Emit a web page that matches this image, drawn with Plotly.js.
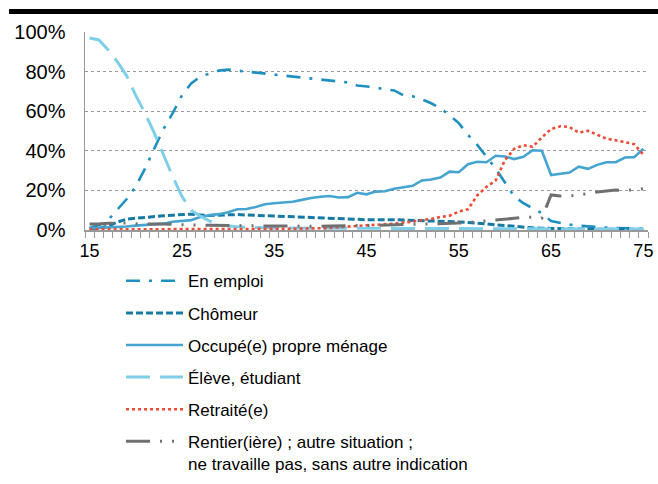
<!DOCTYPE html>
<html>
<head>
<meta charset="utf-8">
<script src="https://cdn.plot.ly/plotly-3.0.1.min.js"></script>
<style>
html,body{margin:0;padding:0;background:#fff;}
#chart{width:658px;height:484px;}
</style>
</head>
<body>
<div id="chart"></div>
<script>
const ages = [];
for (let a = 15; a <= 75; a++) ages.push(a);

const seriesNames = [
  "En emploi",
  "Chômeur",
  "Occupé(e) propre ménage",
  "Élève, étudiant",
  "Retraité(e)",
  "Rentier(ière) ; autre situation ;<br>ne travaille pas, sans autre indication"
];

// ages 15..75
const enEmploi = [1,2.5,5,10,15.5,22,31,41,51,59,68,74,77.5,79,80.5,81,80.5,80,79.5,79,78.5,78,77.5,77,76.5,76,75.5,75,74.5,73,72.5,72,71,70.5,68,67.5,66,64,61.5,58,54,48,43,37,31,24,17,13.5,11,8.5,4.5,3.5,2.7,2.2,1.8,1.4,1.2,1,0.9,0.8,0.7];
const chomeur = [0.5,1,2,4,5.5,6,6.5,7,7.2,7.5,7.8,8,7.6,7.3,7.5,7.8,7.8,7.6,7.4,7.2,7.2,7,6.8,6.6,6.3,6.1,6,5.9,5.7,5.4,5.2,5.2,5.3,5.2,5,4.9,4.7,4.6,4.4,4.3,4.1,3.8,3.4,3,2.5,2,1.6,1.3,1.1,0.9,0.7,0.6,0.6,0.5,0.5,0.4,0.4,0.4,0.3,0.3,0.3];
const occupe = [0.8,1,1.3,1.6,1.8,2.2,2.5,2.9,3.2,4.2,4.6,5,6.6,7.5,8,9,10.5,10.6,11.6,13,13.5,14,14.3,15.2,16.2,16.8,17.2,16.4,16.6,18.8,18,19.4,19.6,20.8,21.6,22.3,25,25.5,26.5,29.5,29.2,33.2,34.5,34.2,37.5,37.1,35.8,37,40.3,40,27.8,28.3,29,32,30.9,32.9,34.2,34.3,36.6,36.8,41];
const eleve = [97,96,91,85,78,68,59,49,38,27,17,10,7,4.5,2.5,2,1.6,1.4,1.2,1.1,1,1,0.9,0.9,0.9,0.9,0.9,0.9,0.9,0.9,0.9,0.8,0.8,0.8,0.8,0.8,0.8,0.8,0.7,0.7,0.7,0.7,0.7,0.7,0.7,0.6,0.6,0.6,0.6,0.6,0.5,0.5,0.5,0.5,0.5,0.5,0.5,0.5,0.5,0.5,0.5];
const retraite = [0.3,0.3,0.3,0.3,0.3,0.3,0.3,0.3,0.3,0.3,0.3,0.4,0.4,0.4,0.4,0.5,0.5,0.5,0.5,0.5,0.6,0.6,0.6,0.7,0.7,0.8,1,1.4,1.8,2.2,2.4,2.6,2.8,3.2,3.8,4.2,5,5.6,6.6,7.2,9.3,10.5,17.5,21.8,25,35.3,41,42.8,42,46.8,51,52.4,52,49.2,50.1,48.2,46.1,45.3,44.2,43.4,38];
const rentier = [3,3,3.4,3.6,3.5,3.2,3,3,3,2.8,2.6,2.5,2.4,2.4,2.3,2.2,2.2,2.1,2,2,2,2,1.9,1.9,1.9,1.9,2,2,2.1,2.2,2.3,2.4,2.5,2.5,2.6,2.7,2.8,3,3,3.3,3.5,3.8,4.2,4.5,4.8,5.3,5.9,6.4,6.5,6,17.7,17.2,17.2,17.8,18.3,19.2,19.8,20.2,20,20.4,20.8];

const tickVals = [15,25,35,45,55,65,75];
const tickText = ["15","25","35","45","55","65","75"];

const styles = [
  {color:"#1f8fc0", width:2.6, dash:"14px,9px,3px,9px"},
  {color:"#167aa5", width:3, dash:"7px,3px"},
  {color:"#45a5d0", width:2.6, dash:"solid"},
  {color:"#7fcfe9", width:3, dash:"24px,10px"},
  {color:"#ee4b36", width:2.6, dash:"dot"},
  {color:"#707070", width:3, dash:"24px,10px,2px,10px,2px,10px"}
];
const values = [enEmploi, chomeur, occupe, eleve, retraite, rentier];

const traces = values.map((v, i) => ({
  x: ages, y: v, type: "scatter", mode: "lines",
  name: seriesNames[i], legendgroup: "g" + i,
  line: styles[i], hoverinfo: "skip"
}));

const layout = {
  width: 658, height: 484,
  margin: {l: 85, r: 10, t: 32, b: 254, autoexpand: false},
  paper_bgcolor: "#fff", plot_bgcolor: "#fff",
  font: {family: "Liberation Sans, Arial, sans-serif", color: "#000", size: 17},
  showlegend: true,
  legend: {
    x: 0.064, xanchor: "left", y: -0.168, yanchor: "top",
    orientation: "v", tracegroupgap: 7, itemwidth: 57, valign: "top",
    font: {size: 17, color: "#000"}, bgcolor: "rgba(0,0,0,0)"
  },
  xaxis: {
    range: [14.5, 75.5], tickmode: "array", tickvals: tickVals, ticktext: tickText,
    ticks: "", showgrid: false, zeroline: false, showline: true,
    linecolor: "#999", linewidth: 1.5, tickfont: {size: 18}, ticklabelstandoff: 4,
    minor: {ticks: "outside", ticklen: 6, tickcolor: "#999", tickwidth: 1, tick0: 14.5, dtick: 1, showgrid: false}
  },
  yaxis: {
    range: [0, 100], dtick: 20, ticksuffix: "%", ticks: "",
    showgrid: true, gridcolor: "#999", griddash: "dot", gridwidth: 1,
    zeroline: false, showline: true, linecolor: "#999", linewidth: 1.5,
    tickfont: {size: 20}, ticklabelstandoff: 14
  },
  shapes: [{
    type: "rect", xref: "paper", yref: "paper",
    x0: (9 - 85) / 563, x1: (658 - 85) / 563,
    y0: (230 - 14) / 198, y1: (230 - 9) / 198,
    fillcolor: "#000", line: {width: 0}
  }]
};

Plotly.newPlot("chart", traces, layout, {displayModeBar: false, staticPlot: true});
</script>
</body>
</html>
